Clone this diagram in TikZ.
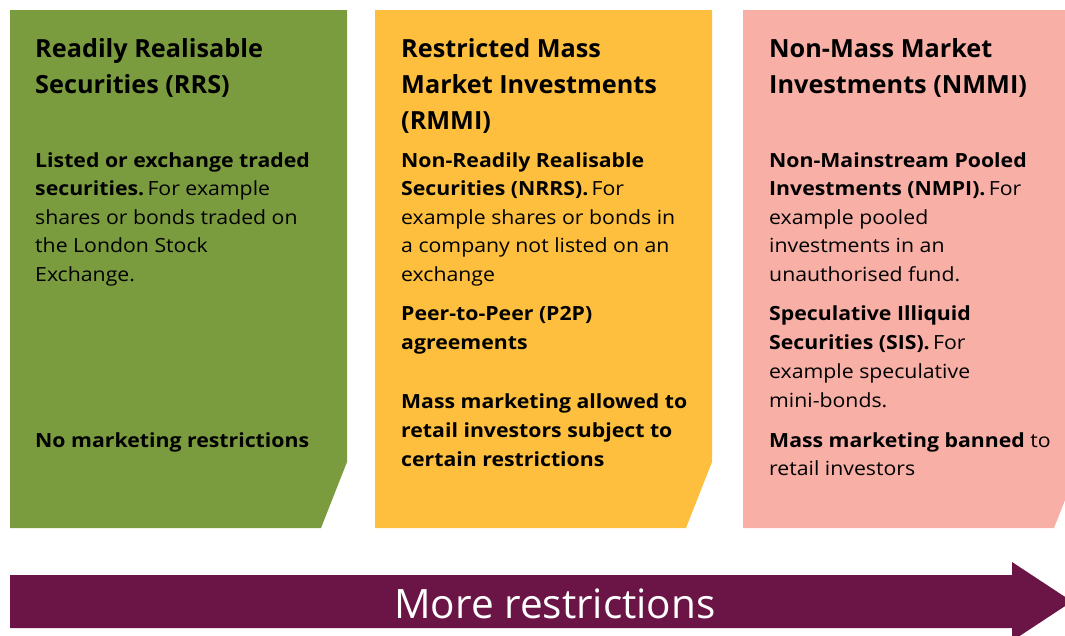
\documentclass[tikz,border=0pt]{standalone}
\usepackage{fontspec}
\setmainfont{Open Sans}
\newfontfamily\bodyfont{Open Sans}[FakeStretch=1.09]
\newfontfamily\titlefont{Open Sans}[FakeStretch=1.01]
\definecolor{cgreen}{HTML}{7B9B3F}
\definecolor{cyellow}{HTML}{FDBF3D}
\definecolor{cpink}{HTML}{F7AFA6}
\definecolor{cpurple}{HTML}{6A1545}
\tikzset{
  ttl/.style={anchor=base west, inner sep=0pt, font=\titlefont\fontsize{25}{30}\selectfont\bfseries},
  bod/.style={anchor=base west, inner sep=0pt, font=\bodyfont\fontsize{19.5}{24}\selectfont},
  arrowtext/.style={inner sep=0pt, text=white, font=\fontsize{40.5}{48}\selectfont},
}
\begin{document}
\begin{tikzpicture}[x=1pt,y=-1pt]
\useasboundingbox (0,0) rectangle (1065,635);
\clip (0,0) rectangle (1065,635);
% panels
\fill[cgreen]  (10,10) -- (347,10) -- (347,462) -- (321,528) -- (10,528) -- cycle;
\fill[cyellow] (375,10) -- (712,10) -- (712,462) -- (686,528) -- (375,528) -- cycle;
\fill[cpink]   (743,10) -- (1080,10) -- (1080,462) -- (1054,528) -- (743,528) -- cycle;
% arrow
\fill[cpurple] (10,575) -- (1012,575) -- (1012,562) -- (1072,601.5) -- (1012,641) -- (1012,628) -- (10,628) -- cycle;
\node[arrowtext, anchor=base] (arr) at (555,618) {More restrictions};

% green panel
\node[ttl] (g1) at (35,57) {Readily Realisable};
\node[ttl] (g2) at (35,93) {Securities (RRS)};
\node[bod] (g3) at (35,167) {\textbf{Listed or exchange traded}};
\node[bod] (g4) at (35,195.5) {\textbf{securities.}\,For example};
\node[bod] (g5) at (35,224) {shares or bonds traded on};
\node[bod] (g6) at (35,252.5) {the London Stock};
\node[bod] (g7) at (35,281) {Exchange.};
\node[bod] (g8) at (35,447) {\textbf{No marketing restrictions}};

% yellow panel
\node[ttl] (y1) at (401,57) {Restricted Mass};
\node[ttl] (y2) at (401,93) {Market Investments};
\node[ttl] (y3) at (401,129) {(RMMI)};
\node[bod] (y4) at (401,167) {\textbf{Non-Readily Realisable}};
\node[bod] (y5) at (401,195.5) {\textbf{Securities (NRRS).}\,For};
\node[bod] (y6) at (401,224) {example shares or bonds in};
\node[bod] (y7) at (401,252.5) {a company not listed on an};
\node[bod] (y8) at (401,281) {exchange};
\node[bod] (y9) at (401,320) {\textbf{Peer-to-Peer (P2P)}};
\node[bod] (y10) at (401,349) {\textbf{agreements}};
\node[bod] (y11) at (401,408) {\textbf{Mass marketing allowed to}};
\node[bod] (y12) at (401,437) {\textbf{retail investors subject to}};
\node[bod] (y13) at (401,466) {\textbf{certain restrictions}};

% pink panel
\node[ttl] (p1) at (769,57) {Non-Mass Market};
\node[ttl] (p2) at (769,93) {Investments (NMMI)};
\node[bod] (p3) at (769,167) {\textbf{Non-Mainstream Pooled}};
\node[bod] (p4) at (769,195.5) {\textbf{Investments (NMPI).}\,For};
\node[bod] (p5) at (769,224) {example pooled};
\node[bod] (p6) at (769,252.5) {investments in an};
\node[bod] (p7) at (769,281) {unauthorised fund.};
\node[bod] (p8) at (769,320) {\textbf{Speculative Illiquid}};
\node[bod] (p9) at (769,349) {\textbf{Securities (SIS).}\,For};
\node[bod] (p10) at (769,378) {example speculative};
\node[bod] (p11) at (769,407) {mini-bonds.};
\node[bod] (p12) at (769,447) {\textbf{Mass marketing banned} to};
\node[bod] (p13) at (769,475.5) {retail investors};
\end{tikzpicture}
\end{document}
